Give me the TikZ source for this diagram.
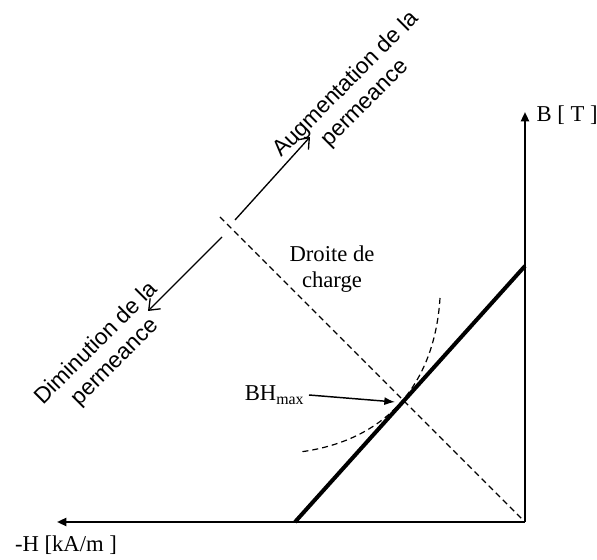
\documentclass[tikz,border=0pt]{standalone}
\usepackage{fontspec}
\setmainfont{Liberation Serif}
\newfontfamily\arialfont{Liberation Sans}
\usetikzlibrary{arrows.meta, positioning}

\begin{document}
\begin{tikzpicture}[x=0.75pt, y=0.75pt,
    axis/.style = {line width=1.6pt, -{Triangle[length=7pt, width=6pt]}},
    loadline/.style = {line width=0.9pt, dash pattern=on 4.5pt off 3pt},
    perm/.style = {line width=1pt, -{Straight Barb[length=7pt, width=11pt]}},
    rottext/.style = {font=\arialfont\fontsize{17}{20}\selectfont, align=center, rotate=45},
    lbl/.style = {font=\fontsize{17}{20}\selectfont, align=center}]
  \useasboundingbox (-525,-38) rectangle (72,522);
  % axes
  \coordinate (O) at (0,0);
  \coordinate (Btip) at (0,410);
  \coordinate (Htip) at (-468,0);
  \draw[axis] (O) -- (Btip);
  \draw[axis] (O) -- (Htip);
  \node[lbl, anchor=west] (B) at (7,407) {B [ T ]};
  \node[lbl] (H) at (-459,-23) {-H [kA/m ]};
  % demagnetisation line
  \coordinate (Hc) at (-230,0);
  \coordinate (Br) at (0,256);
  \draw[line width=3pt] (Hc) -- (Br);
  % load line
  \coordinate (L) at (-305,305);
  \draw[loadline] (L) -- (O);
  \node[lbl] (charge) at (-193,253) {Droite de\\charge};
  % iso BH curve
  \coordinate (c1) at (-85,224);
  \coordinate (c2) at (-225,70);
  \draw[loadline] (c1) .. controls (-90,142) and (-135,82) .. (c2);
  % BHmax
  \coordinate (P) at (-130,120);
  \node[lbl, anchor=east] (bh) at (-216,127) {BH\textsubscript{max}};
  \draw[line width=1.1pt, -{Latex[length=8pt, width=6pt]}] (bh.east) -- (P);
  % permeance
  \coordinate (gapU) at (-290,302);
  \coordinate (tipU) at (-215,385);
  \coordinate (gapD) at (-303,285);
  \coordinate (tipD) at (-377,211);
  \draw[perm] (gapU) -- (tipU);
  \draw[perm] (gapD) -- (tipD);
  \node[rottext] (aug) at (-169,428) {Augmentation de la\\permeance};
  \node[rottext] (dim) at (-419,169) {Diminution de la\\permeance};
\end{tikzpicture}
\end{document}
